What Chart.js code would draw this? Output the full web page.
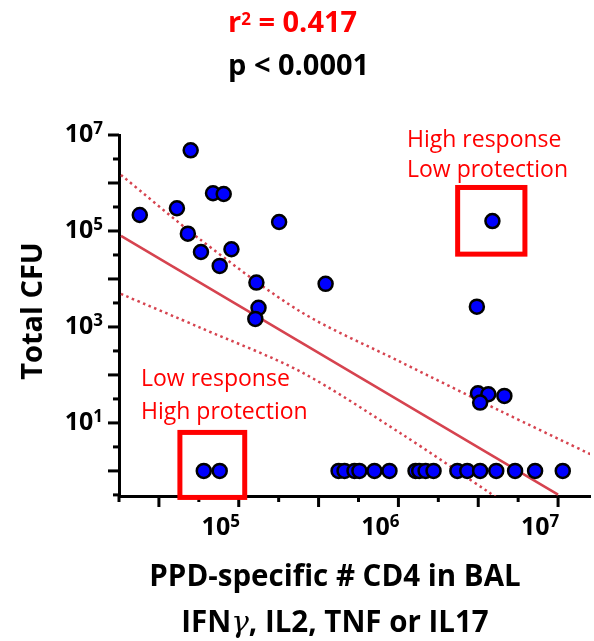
<!DOCTYPE html>
<html>
<head>
<meta charset="utf-8">
<script src="https://cdn.jsdelivr.net/npm/chart.js@4.4.1/dist/chart.umd.min.js"></script>
<style>
  body { margin: 0; background: #fff; }
  canvas { display: block; }
</style>
</head>
<body>
<canvas id="chart" width="594" height="641"></canvas>
<script>
// PPD-specific CD4 in BAL (x) vs total CFU (y), one entry per animal
const cd4Counts = [
  2.4e4, 5.0e4, 6.9e4, 8.05e4, 4.1e4, 1.79e5, 4.8e4, 5.8e4, 9.0e4, 7.6e4,
  1.29e5, 3.5e5, 1.33e5, 1.27e5, 3.88e6, 3.10e6, 3.15e6, 3.66e6, 3.25e6, 4.61e6,
  6.04e4, 7.6e4, 4.22e5, 4.60e5, 5.31e5, 5.70e5, 7.08e5, 8.79e5, 1.28e6, 1.35e6,
  1.48e6, 1.66e6, 2.34e6, 2.70e6, 3.25e6, 4.10e6, 5.38e6, 7.18e6, 1.07e7
];
const totalCfu = [
  2.15e5, 4.8e6, 6.1e5, 5.9e5, 2.97e5, 1.54e5, 8.8e4, 3.65e4, 4.16e4, 1.87e4,
  8.4e3, 7.9e3, 2.5e3, 1.47e3, 1.61e5, 2.65e3, 41.6, 39.6, 26.5, 36.5,
  1, 1, 1, 1, 1, 1, 1, 1, 1, 1,
  1, 1, 1, 1, 1, 1, 1, 1, 1
];

// regression line and its confidence band (log-log)
const fitX = [1.83e4, 1.0e7];
const fitY = [7.9e4, 0.32];
const upperX = [1.83e4, 5.79e4, 2.44e5, 1.03e6, 4.34e6, 1.68e7];
const upperY = [1.47e6, 6.49e4, 2.08e3, 187, 17.8, 2.05];
const lowerX = [1.83e4, 5.79e4, 2.44e5, 1.03e6, 3.76e6, 5.79e6];
const lowerY = [4.87e3, 953, 117, 6.1, 0.343, 0.127];

// highlighted regions: [xMin, xMax, yMin, yMax]
const lowResponseBox = [4.28e4, 1.09e5, 0.28, 6.34];
const highResponseBox = [2.35e6, 6.2e6, 3.29e4, 8.06e5];

// axis ticks as powers of ten
const xTickPowers = [4.25, 4.5, 4.75, 5, 5.25, 5.5, 5.75, 6, 6.25, 6.5, 6.75, 7];
const xLabelPowers = [5, 6, 7];
const yTickPowers = [-0.5, 0, 0.5, 1, 1.5, 2, 2.5, 3, 3.5, 4, 4.5, 5, 5.5, 6, 6.5, 7];
const yLabelPowers = [1, 3, 5, 7];

const FONT = '"Open Sans", "Liberation Sans", sans-serif';
const fitColor = '#d6434f';

function toPoints(xs, ys) {
  return xs.map((v, i) => ({ x: v, y: ys[i] }));
}

// draws text pieces one after another: [text, font, dy]
function drawRun(ctx, pieces, x, baseline, align) {
  let total = 0;
  pieces.forEach(p => { ctx.font = p[1]; total += ctx.measureText(p[0]).width; });
  let cx = align === 'right' ? x - total : align === 'center' ? x - total / 2 : x;
  ctx.textAlign = 'left';
  ctx.textBaseline = 'alphabetic';
  pieces.forEach(p => {
    ctx.font = p[1];
    ctx.fillText(p[0], cx, baseline + (p[2] || 0));
    cx += ctx.measureText(p[0]).width;
  });
}

function powerLabel(exp) {
  return [['10', 'bold 25px ' + FONT], [String(exp), 'bold 17px ' + FONT, -8]];
}

function strokeBox(ctx, x, y, box) {
  const left = x.getPixelForValue(box[0]);
  const right = x.getPixelForValue(box[1]);
  const bottom = y.getPixelForValue(box[2]);
  const top = y.getPixelForValue(box[3]);
  ctx.strokeRect(left, top, right - left, bottom - top);
}

const decorations = {
  id: 'decorations',
  afterDraw(chart) {
    const { ctx, chartArea: area } = chart;
    const x = chart.scales.x;
    const y = chart.scales.y;
    ctx.save();

    // tick marks, long on the half/whole decades
    ctx.strokeStyle = '#000';
    ctx.lineWidth = 3;
    xTickPowers.forEach(p => {
      const px = x.getPixelForValue(10 ** p);
      const len = p % 0.5 === 0 ? 11 : 6;
      ctx.beginPath();
      ctx.moveTo(px, area.bottom);
      ctx.lineTo(px, area.bottom + len);
      ctx.stroke();
    });
    yTickPowers.forEach(p => {
      const py = y.getPixelForValue(10 ** p);
      const len = p % 1 === 0 ? 11 : 6;
      ctx.beginPath();
      ctx.moveTo(area.left, py);
      ctx.lineTo(area.left - len, py);
      ctx.stroke();
    });

    // tick labels
    ctx.fillStyle = '#000';
    xLabelPowers.forEach(p => {
      drawRun(ctx, powerLabel(p), x.getPixelForValue(10 ** p) - 18, area.bottom + 39, 'center');
    });
    yLabelPowers.forEach(p => {
      drawRun(ctx, powerLabel(p), 103, y.getPixelForValue(10 ** p) + 7, 'right');
    });

    // axis titles
    ctx.save();
    ctx.translate(42, 311);
    ctx.rotate(-Math.PI / 2);
    drawRun(ctx, [['Total CFU', 'bold 29px ' + FONT]], 0, 0, 'center');
    ctx.restore();
    drawRun(ctx, [['PPD-specific # CD4 in BAL', 'bold 29.5px ' + FONT]], 335, 586, 'center');
    drawRun(ctx, [
      ['IFN', 'bold 29.5px ' + FONT],
      ['\u03b3', 'italic 29.5px "DejaVu Serif", serif'],
      [', IL2, TNF or IL17', 'bold 29.5px ' + FONT]
    ], 335, 632, 'center');

    // statistics
    ctx.fillStyle = '#ff0000';
    drawRun(ctx, [
      ['r', 'bold 29px ' + FONT],
      ['2', 'bold 17px ' + FONT, -7],
      [' = 0.417', 'bold 29px ' + FONT]
    ], 228, 32, 'left');
    ctx.fillStyle = '#000';
    drawRun(ctx, [['p < 0.0001', 'bold 29px ' + FONT]], 228, 75, 'left');

    // highlighted regions
    ctx.strokeStyle = '#ff0000';
    ctx.lineWidth = 5;
    strokeBox(ctx, x, y, lowResponseBox);
    strokeBox(ctx, x, y, highResponseBox);

    ctx.fillStyle = '#ff0000';
    const note = '23px ' + FONT;
    drawRun(ctx, [['High response', note]], 407, 147, 'left');
    drawRun(ctx, [['Low protection', note]], 407, 177, 'left');
    drawRun(ctx, [['Low response', note]], 141, 386, 'left');
    drawRun(ctx, [['High protection', note]], 141, 419, 'left');

    ctx.restore();
  }
};

new Chart(document.getElementById('chart'), {
  type: 'scatter',
  data: {
    datasets: [
      {
        data: toPoints(cd4Counts, totalCfu),
        backgroundColor: '#0000ff',
        borderColor: '#000',
        borderWidth: 2.5,
        pointRadius: 7
      },
      {
        data: toPoints(fitX, fitY),
        showLine: true,
        borderColor: fitColor,
        borderWidth: 2.5,
        pointRadius: 0
      },
      {
        data: toPoints(upperX, upperY),
        showLine: true,
        borderColor: fitColor,
        borderWidth: 2.5,
        borderDash: [2.5, 3.5],
        pointRadius: 0,
        tension: 0.3
      },
      {
        data: toPoints(lowerX, lowerY),
        showLine: true,
        borderColor: fitColor,
        borderWidth: 2.5,
        borderDash: [2.5, 3.5],
        pointRadius: 0,
        tension: 0.3
      }
    ]
  },
  options: {
    responsive: false,
    animation: false,
    devicePixelRatio: 1,
    layout: {
      autoPadding: false,
      padding: { top: 135, right: 4, left: 0, bottom: 0 }
    },
    plugins: { legend: { display: false }, tooltip: { enabled: false } },
    scales: {
      x: {
        type: 'logarithmic',
        min: 10 ** 4.25,
        max: 10 ** 7.2,
        afterFit: s => { s.height = 145; },
        ticks: { display: false },
        grid: { display: false },
        border: { display: true, color: '#000', width: 3 }
      },
      y: {
        type: 'logarithmic',
        min: 10 ** -0.5,
        max: 1e7,
        afterFit: s => { s.width = 119; },
        ticks: { display: false },
        grid: { display: false },
        border: { display: true, color: '#000', width: 3 }
      }
    }
  },
  plugins: [decorations]
});
</script>
</body>
</html>
